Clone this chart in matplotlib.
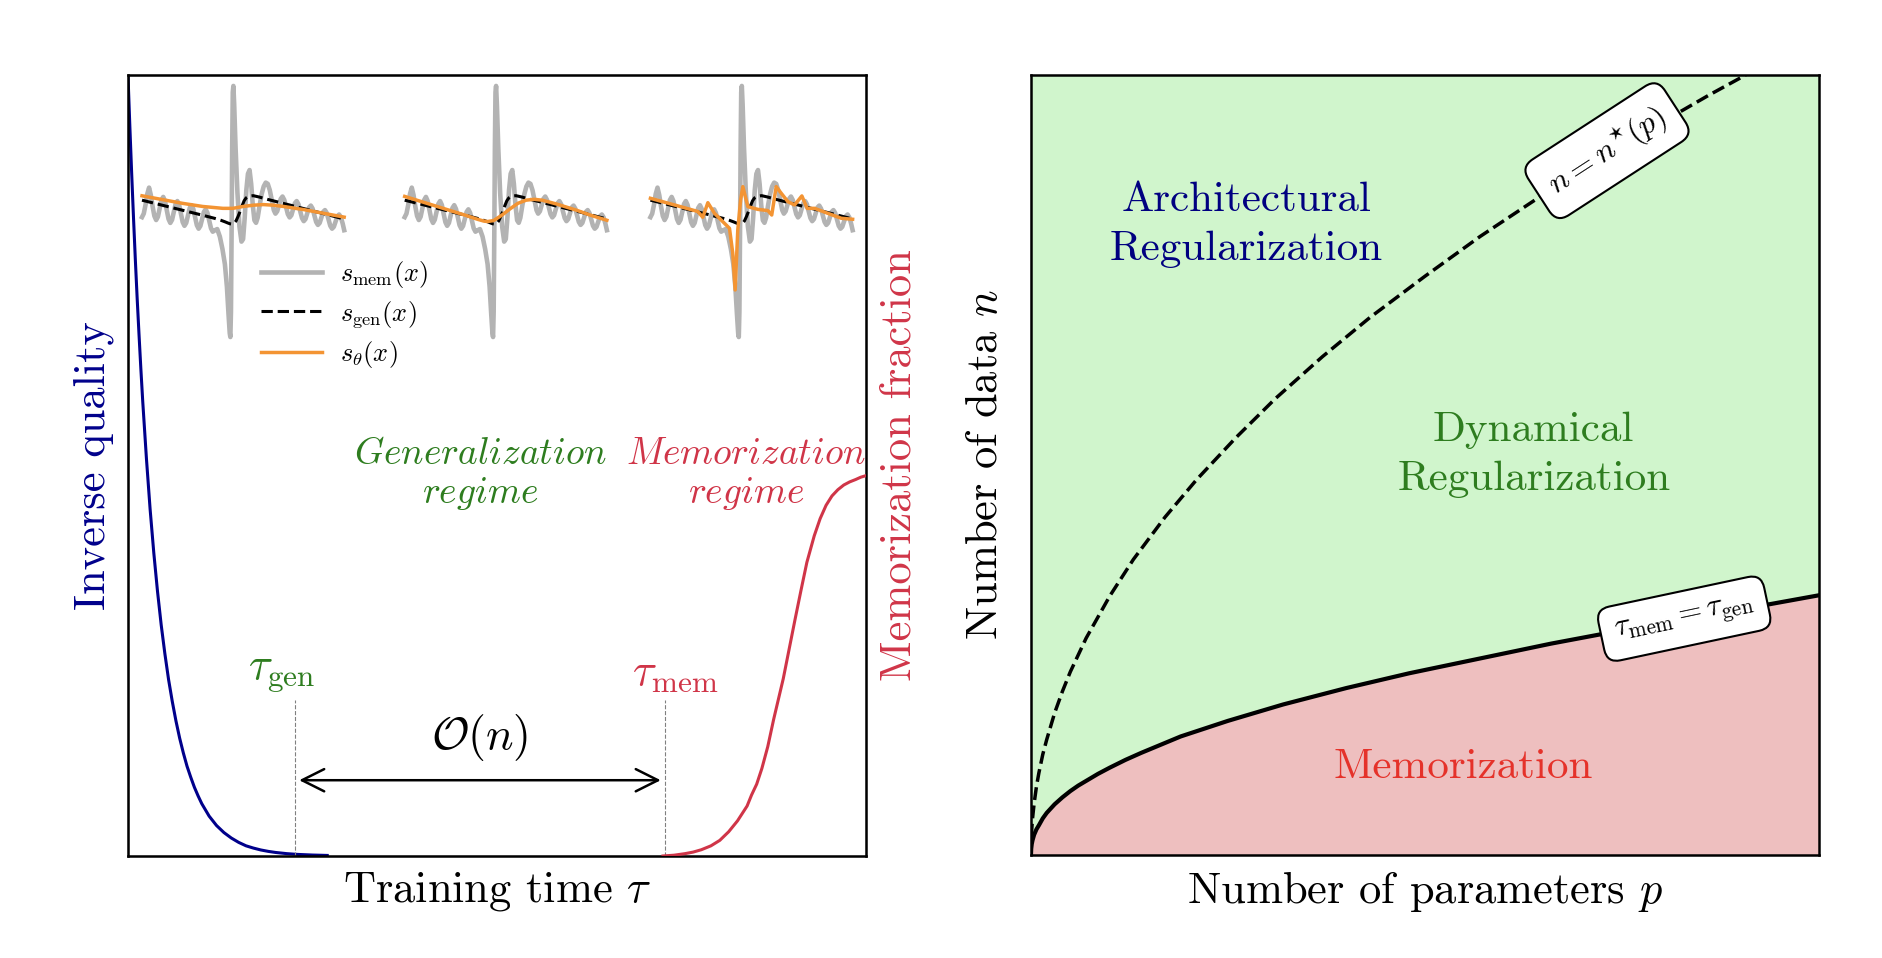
import numpy as np
import matplotlib.pyplot as plt
from matplotlib.lines import Line2D

plt.rcParams['font.family'] = 'serif'
plt.rcParams['font.serif'] = ['cmr10']
plt.rcParams['mathtext.fontset'] = 'cm'
plt.rcParams['axes.unicode_minus'] = False

# ---------------- data ----------------
# left panel, inverse quality (blue) vs training time
tau_quality = [0.0, 0.0025, 0.005, 0.0075, 0.01, 0.0125, 0.015, 0.0175, 0.02, 0.025, 0.03,
               0.035, 0.04, 0.045, 0.05, 0.055, 0.06, 0.065, 0.07, 0.075, 0.08, 0.085,
               0.09, 0.095, 0.10, 0.11, 0.12, 0.13, 0.14, 0.15, 0.16, 0.17, 0.18, 0.19,
               0.20, 0.215, 0.23, 0.25, 0.27]
inv_quality = [1.0, 0.935, 0.874, 0.817, 0.763, 0.713, 0.667, 0.623, 0.582, 0.509, 0.444,
               0.388, 0.339, 0.296, 0.259, 0.226, 0.198, 0.173, 0.151, 0.132, 0.115, 0.101,
               0.088, 0.077, 0.067, 0.051, 0.039, 0.030, 0.023, 0.0174, 0.013, 0.0101,
               0.0077, 0.0059, 0.0045, 0.003, 0.002, 0.0012, 0.0007]

# memorization fraction (red)
tau_mem_curve = [0.725, 0.74, 0.755, 0.766, 0.777, 0.79, 0.802, 0.814, 0.826, 0.839, 0.845,
                 0.852, 0.859, 0.867, 0.875, 0.882, 0.888, 0.896, 0.904, 0.912, 0.92, 0.93,
                 0.938, 0.946, 0.954, 0.962, 0.97, 0.978, 0.986, 0.993, 1.0]
mem_fraction = [0.0, 0.001, 0.003, 0.005, 0.008, 0.013, 0.02, 0.031, 0.045, 0.064, 0.078,
                0.092, 0.112, 0.14, 0.175, 0.203, 0.227, 0.265, 0.303, 0.34, 0.376, 0.41,
                0.432, 0.449, 0.461, 0.469, 0.475, 0.479, 0.482, 0.485, 0.487]

tau_gen_pos = 0.226
tau_mem_pos = 0.728

# score functions drawn in the three small insets
s_mem_x = [0.0, 0.00875, 0.0175, 0.02625, 0.035, 0.04375, 0.0525, 0.06125, 0.07, 0.07875,
           0.0875, 0.09625, 0.105, 0.11375, 0.1225, 0.13125, 0.14, 0.14875, 0.1575, 0.16625,
           0.175, 0.18375, 0.1925, 0.20125, 0.21, 0.21875, 0.2275, 0.23625, 0.245, 0.25375,
           0.2625, 0.27125, 0.28, 0.28875, 0.2975, 0.30625, 0.315, 0.32375, 0.3325, 0.34125,
           0.35, 0.36, 0.372, 0.385, 0.398, 0.41, 0.42, 0.428, 0.434, 0.437, 0.44, 0.443,
           0.446, 0.449, 0.452, 0.456, 0.463, 0.472, 0.482, 0.492, 0.5, 0.508, 0.516, 0.524,
           0.532, 0.54, 0.548, 0.556, 0.564, 0.572, 0.582, 0.592, 0.602, 0.612, 0.622, 0.632,
           0.642, 0.652, 0.66, 0.66875, 0.6775, 0.68625, 0.695, 0.70375, 0.7125, 0.72125,
           0.73, 0.73875, 0.7475, 0.75625, 0.765, 0.77375, 0.7825, 0.79125, 0.8, 0.80875,
           0.8175, 0.82625, 0.835, 0.84375, 0.8525, 0.86125, 0.87, 0.87875, 0.8875, 0.89625,
           0.905, 0.91375, 0.9225, 0.93125, 0.94, 0.94875, 0.9575, 0.96625, 0.975, 0.98375,
           0.9925, 1.0]
s_mem_y = [-0.045, -0.017, 0.053, 0.14, 0.19, 0.13, 0.039, -0.036, -0.068, -0.042,
           0.025, 0.091, 0.116, 0.083, 0.011, -0.060, -0.091, -0.066, -0.003, 0.060,
           0.083, 0.052, -0.017, -0.085, -0.114, -0.091, -0.031, 0.028, 0.050, 0.020,
           -0.045, -0.109, -0.137, -0.115, -0.059, -0.003, 0.017, -0.011, -0.073, -0.134,
           -0.161, -0.15, -0.14, -0.2, -0.3, -0.42, -0.6, -0.82, -0.97, -1.0, -0.8, -0.2,
           0.5, 0.95, 1.0, 0.85, 0.5, 0.15, -0.12, -0.24, -0.22, -0.05, 0.17, 0.3,
           0.33, 0.22, 0.05, -0.07, -0.09, -0.05, 0.05, 0.14, 0.2, 0.23, 0.22, 0.17,
           0.09, 0.01, -0.017, 0.002, 0.052, 0.101, 0.119, 0.092, 0.035, -0.021,
           -0.047, -0.030, 0.019, 0.066, 0.083, 0.058, 0.002, -0.052, -0.077, -0.060,
           -0.014, 0.032, 0.047, 0.023, -0.031, -0.083, -0.107, -0.091, -0.047, -0.003,
           0.011, -0.012, -0.063, -0.114, -0.137, -0.122, -0.080, -0.038, -0.024, -0.047,
           -0.096, -0.149]

s_gen_x = [0.0, 0.1, 0.2, 0.3, 0.36, 0.39, 0.41, 0.425, 0.435, 0.445, 0.455, 0.465, 0.475,
           0.485, 0.495, 0.505, 0.515, 0.53, 0.55, 0.58, 0.62, 0.7, 0.8, 0.9, 1.0]
s_gen_y = [0.09, 0.05, 0.01, -0.03, -0.055, -0.07, -0.082, -0.092, -0.098, -0.10, -0.095,
           -0.075, -0.04, 0.0, 0.045, 0.085, 0.108, 0.122, 0.126, 0.115, 0.097, 0.064,
           0.023, -0.018, -0.06]

s_theta_x = [
    [0.0, 0.1, 0.2, 0.3, 0.4, 0.45, 0.5, 0.55, 0.6, 0.65, 0.7, 0.8, 0.9, 1.0],
    [0.0, 0.1, 0.2, 0.3, 0.36, 0.39, 0.41, 0.44, 0.48, 0.52, 0.56, 0.60, 0.64, 0.68, 0.75,
     0.85, 0.92, 1.0],
    [0.0, 0.119, 0.234, 0.259, 0.284, 0.317, 0.366, 0.391, 0.407, 0.419, 0.432, 0.446,
     0.457, 0.482, 0.531, 0.581, 0.600, 0.622, 0.647, 0.68, 0.713, 0.749, 0.775, 0.812,
     0.878, 0.944, 1.0],
]
s_theta_y = [
    [0.125, 0.095, 0.065, 0.04, 0.025, 0.025, 0.04, 0.05, 0.055, 0.05, 0.04, 0.015,
     -0.015, -0.045],
    [0.12, 0.07, 0.02, -0.03, -0.062, -0.076, -0.08, -0.072, -0.03, 0.02, 0.065, 0.09,
     0.097, 0.09, 0.06, 0.01, -0.03, -0.07],
    [0.105, 0.052, 0.0, -0.046, 0.07, -0.015, -0.094, -0.134, -0.33, -0.625, -0.147,
     0.092, 0.198, 0.038, 0.017, 0.007, -0.028, 0.198, 0.145, 0.078, 0.052, 0.124,
     0.025, 0.025, -0.015, -0.054, -0.062],
]
inset_left = [0.019, 0.375, 0.708]

# right panel, phase diagram in (p, n)
p_star = [0.0, 0.0003, 0.001, 0.002, 0.004, 0.007, 0.01, 0.015, 0.02, 0.03, 0.04, 0.05,
          0.07, 0.1, 0.13, 0.17, 0.21, 0.26, 0.31, 0.37, 0.43, 0.5, 0.57, 0.64, 0.72, 0.8,
          0.86, 0.907]
n_star = [0.0, 0.018, 0.033, 0.047, 0.066, 0.088, 0.105, 0.129, 0.148, 0.182, 0.21, 0.235,
          0.278, 0.332, 0.379, 0.433, 0.481, 0.535, 0.585, 0.639, 0.689, 0.742, 0.793,
          0.840, 0.891, 0.939, 0.974, 1.0]

p_eq = [0.0, 0.0003, 0.001, 0.002, 0.004, 0.007, 0.01, 0.015, 0.02, 0.03, 0.04, 0.05,
        0.06, 0.07, 0.085, 0.1, 0.12, 0.14, 0.19, 0.25, 0.32, 0.4, 0.48, 0.57, 0.66,
        0.76, 0.88, 1.0]
n_eq = [0.0, 0.008, 0.014, 0.019, 0.026, 0.033, 0.038, 0.047, 0.054, 0.065, 0.074, 0.082,
        0.089, 0.095, 0.104, 0.112, 0.122, 0.131, 0.152, 0.172, 0.193, 0.214, 0.233,
        0.252, 0.271, 0.290, 0.311, 0.333]

blue = '#00008b'
red = '#d03548'
green = '#2e7d1f'
orange = '#f39433'
grey = '#b3b3b3'

fig = plt.figure(figsize=(18.82, 9.58), dpi=100)

# ---------------- left panel ----------------
ax = fig.add_axes([0.068, 0.1065, 0.3921, 0.8152])
ax.plot(tau_quality, inv_quality, color=blue, lw=2.2)
ax.set_xlim(0, 1)
ax.set_ylim(0, 1)
ax.set_xticks([])
ax.set_yticks([])
for sp in ax.spines.values():
    sp.set_linewidth(1.8)
ax.set_xlabel(r'Training time $\tau$', fontsize=32, labelpad=10)
ax.set_ylabel('Inverse quality', fontsize=32, color=blue, labelpad=10)

axr = ax.twinx()
axr.plot(tau_mem_curve, mem_fraction, color=red, lw=2.2)
axr.set_ylim(0, 1)
axr.set_yticks([])
axr.set_ylabel('Memorization fraction', fontsize=32, color=red, labelpad=10)

# tau markers and the O(n) arrow
for xpos in [tau_gen_pos, tau_mem_pos]:
    ax.plot([xpos, xpos], [0, 0.2], color='grey', ls='--', lw=0.8)
ax.text(0.208, 0.233, r'$\tau_{\rm gen}$', color=green, fontsize=32, ha='center', va='center')
ax.text(0.742, 0.233, r'$\tau_{\rm mem}$', color=red, fontsize=32, ha='center', va='center')
ax.annotate('', xy=(0.722, 0.097), xytext=(0.232, 0.097),
            arrowprops=dict(arrowstyle='<->', lw=1.8, color='black',
                            mutation_scale=40, shrinkA=0, shrinkB=0))
ax.text(0.476, 0.152, r'$\mathcal{O}(n)$', fontsize=33, ha='center', va='center')

ax.text(0.477, 0.488, r'$\mathit{Generalization}$' + '\n' + r'$\mathit{regime}$',
        color=green, fontsize=27, ha='center', va='center', linespacing=1.15)
ax.text(0.837, 0.488, r'$\mathit{Memorization}$' + '\n' + r'$\mathit{regime}$',
        color=red, fontsize=27, ha='center', va='center', linespacing=1.15)

# the three score-function insets
for i in range(3):
    ins = ax.inset_axes([inset_left[i], 0.6645, 0.274, 0.3215])
    ins.plot(s_mem_x, s_mem_y, color=grey, lw=3.3, clip_on=False, solid_joinstyle='round')
    ins.plot(s_gen_x, s_gen_y, color='black', ls='--', lw=2.2, clip_on=False)
    ins.plot(s_theta_x[i], s_theta_y[i], color=orange, lw=2.5, clip_on=False,
             solid_joinstyle='round')
    ins.set_xlim(0, 1)
    ins.set_ylim(-1, 1)
    ins.axis('off')

handles = [Line2D([], [], color=grey, lw=3.3),
           Line2D([], [], color='black', ls='--', lw=2.2),
           Line2D([], [], color=orange, lw=2.5)]
ax.legend(handles, [r'$s_{\rm mem}(x)$', r'$s_{\rm gen}(x)$', r'$s_\theta(x)$'],
          loc='upper left', bbox_to_anchor=(0.148, 0.795), frameon=False,
          fontsize=19, handlelength=2.3, handletextpad=0.7, labelspacing=0.35)

# ---------------- right panel ----------------
ax2 = fig.add_axes([0.5478, 0.1075, 0.4187, 0.8142])
ax2.fill_between(p_eq, n_eq, 1, color='#d0f5cc', lw=0)
ax2.fill_between(p_eq, 0, n_eq, color='#eebfbf', lw=0)
ax2.plot(p_eq, n_eq, color='black', lw=3)
ax2.plot(p_star, n_star, color='black', ls='--', lw=2.5)
ax2.set_xlim(0, 1)
ax2.set_ylim(0, 1)
ax2.set_xticks([])
ax2.set_yticks([])
for sp in ax2.spines.values():
    sp.set_linewidth(1.8)
ax2.set_xlabel(r'Number of parameters $p$', fontsize=32, labelpad=10)
ax2.set_ylabel(r'Number of data $n$', fontsize=32, labelpad=18)

ax2.text(0.273, 0.808, 'Architectural\nRegularization', color='#000080', fontsize=31,
         ha='center', va='center', linespacing=1.4)
ax2.text(0.638, 0.513, 'Dynamical\nRegularization', color=green, fontsize=31,
         ha='center', va='center', linespacing=1.4)
ax2.text(0.548, 0.112, 'Memorization', color='#e5322a', fontsize=31,
         ha='center', va='center')

box = dict(boxstyle='round,pad=0.45', fc='white', ec='black', lw=1.5)
ax2.text(0.731, 0.903, r'$n = n^{\star}(p)$', fontsize=23, rotation=33,
         ha='center', va='center', bbox=box, rotation_mode='anchor')
ax2.text(0.829, 0.303, r'$\tau_{\rm mem} = \tau_{\rm gen}$', fontsize=22, rotation=12,
         ha='center', va='center', bbox=box, rotation_mode='anchor')

fig.savefig('out.png', dpi=100)
